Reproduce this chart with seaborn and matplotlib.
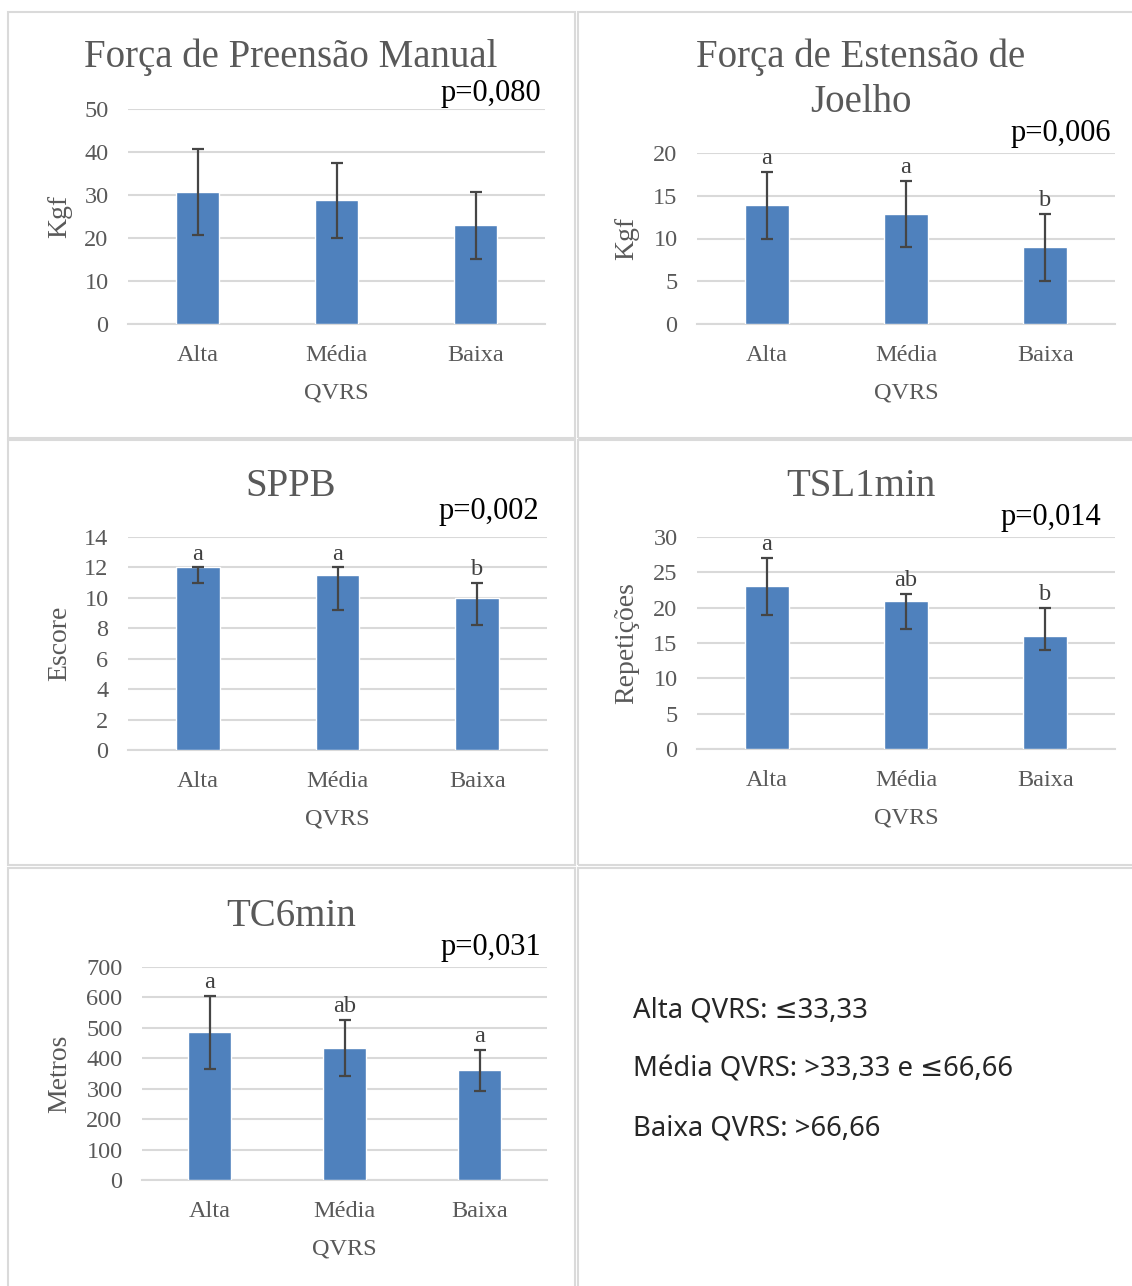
import matplotlib
matplotlib.use("Agg")
import matplotlib.pyplot as plt
import seaborn as sns
import pandas as pd
import numpy as np
from matplotlib.patches import Rectangle

sns.set_theme(style="white")
plt.rcParams['font.family'] = ['Liberation Serif', 'DejaVu Serif']

W, H = 1132, 1286

categories = ["Alta", "Média", "Baixa"]

fpm_mean = [30.8, 28.8, 23.0]
fpm_low = [20.8, 20.0, 15.2]
fpm_high = [40.6, 37.5, 30.6]

fej_mean = [13.9, 12.9, 9.0]
fej_low = [10.0, 9.0, 5.0]
fej_high = [17.8, 16.7, 12.9]
fej_letters = ["a", "a", "b"]

sppb_mean = [12.0, 11.5, 10.0]
sppb_low = [11.0, 9.2, 8.2]
sppb_high = [12.0, 12.0, 11.0]
sppb_letters = ["a", "a", "b"]

tsl_mean = [23.0, 21.0, 16.0]
tsl_low = [19.0, 17.0, 14.0]
tsl_high = [27.0, 22.0, 20.0]
tsl_letters = ["a", "ab", "b"]

tc6_mean = [485, 435, 360]
tc6_low = [365, 342, 292]
tc6_high = [605, 527, 428]
tc6_letters = ["a", "ab", "a"]

legend_lines = ["Alta QVRS: ≤33,33", "Média QVRS: >33,33 e ≤66,66", "Baixa QVRS: >66,66"]

BAR = "#4f81bd"
GRID = "#d9d9d9"
TXT = "#595959"

fig = plt.figure(figsize=(W / 100, H / 100), dpi=100)

def fx(x):
    return x / W

def fy(y):
    return 1 - y / H

# panel borders
for (x0, y0, x1, y1) in [(8, 12, 575, 438), (578, 12, 1140, 438),
                         (8, 440, 575, 865), (578, 440, 1140, 865),
                         (8, 868, 575, 1295), (578, 868, 1140, 1295)]:
    fig.patches.append(Rectangle((fx(x0), fy(y1)), fx(x1) - fx(x0), fy(y0) - fy(y1),
                                 transform=fig.transFigure, fill=False,
                                 edgecolor="#dadada", lw=1.5))


def panel(px0, px1, ptop, pbot, ymax, ystep, mean, low, high, ylabel,
          title_lines, title_y, ptext, pright, py, letters, panel_cx, ylab_x):
    ax = fig.add_axes([fx(px0), fy(pbot), fx(px1) - fx(px0), fy(ptop) - fy(pbot)])
    df = pd.DataFrame({"QVRS": categories, "v": mean})
    sns.barplot(data=df, x="QVRS", y="v", ax=ax, color=BAR, width=0.315,
                saturation=1, errorbar=None, zorder=3)
    m = np.array(mean, float)
    lo = np.array(low, float)
    hi = np.array(high, float)
    ax.errorbar(np.arange(3), m, yerr=[m - lo, hi - m], fmt="none",
                ecolor="#454545", elinewidth=1.6, capsize=4.5, capthick=1.6, zorder=4)
    ax.set_ylim(0, ymax)
    ax.set_xlim(-0.5, 2.5)
    ax.set_yticks(np.arange(0, ymax + ystep / 2, ystep))
    ax.yaxis.grid(True, color=GRID, lw=1.5)
    ax.set_axisbelow(True)
    for s in ["top", "right", "left"]:
        ax.spines[s].set_visible(False)
    ax.spines["bottom"].set_color(GRID)
    ax.spines["bottom"].set_linewidth(1.5)
    ax.tick_params(axis="both", length=0, labelsize=17.5, labelcolor=TXT)
    ax.tick_params(axis="y", pad=14)
    ax.tick_params(axis="x", pad=15)
    ax.set_xlabel("")
    ax.set_ylabel("")
    fig.text(fx((px0 + px1) / 2), fy(pbot + 69), "QVRS", ha="center", va="center",
             fontsize=17.5, color=TXT)
    fig.text(fx(ylab_x), fy((ptop + pbot) / 2), ylabel, ha="center", va="center",
             rotation=90, fontsize=20, color=TXT)
    for i, t in enumerate(title_lines):
        fig.text(fx(panel_cx), fy(title_y + 2 + 45 * i), t,
                 ha="center", va="center", fontsize=28, color=TXT)
    fig.text(fx(pright), fy(py + 2), ptext, ha="right", va="center", fontsize=22, color="black")
    if letters:
        for i, l in enumerate(letters):
            ax.annotate(l, (i, hi[i]), xytext=(0, 2), textcoords="offset points",
                        ha="center", va="bottom", fontsize=17.5, color="#404040")
    return ax


panel(128, 545, 109, 324, 50, 10, fpm_mean, fpm_low, fpm_high, "Kgf",
      ["Força de Preensão Manual"], 55, "p=0,080", 541, 92, None, 291, 60)
panel(697, 1115, 153, 324, 20, 5, fej_mean, fej_low, fej_high, "Kgf",
      ["Força de Estensão de", "Joelho"], 55, "p=0,006", 1111, 131, fej_letters, 861, 627)
panel(128, 547, 537, 750, 14, 2, sppb_mean, sppb_low, sppb_high, "Escore",
      ["SPPB"], 484, "p=0,002", 539, 509, sppb_letters, 291, 60)
panel(697, 1115, 537, 749, 30, 5, tsl_mean, tsl_low, tsl_high, "Repetições",
      ["TSL1min"], 484, "p=0,014", 1101, 515, tsl_letters, 861, 627)
panel(142, 547, 967, 1180, 700, 100, tc6_mean, tc6_low, tc6_high, "Metros",
      ["TC6min"], 914, "p=0,031", 541, 945, tc6_letters, 291, 60)

for i, t in enumerate(legend_lines):
    fig.text(fx(633), fy(1011 + 58.5 * i), t, ha="left", va="center", fontsize=19.8,
             color="#262626", family=["Noto Sans", "DejaVu Sans"])

fig.savefig("out.png", dpi=100, facecolor="white")
